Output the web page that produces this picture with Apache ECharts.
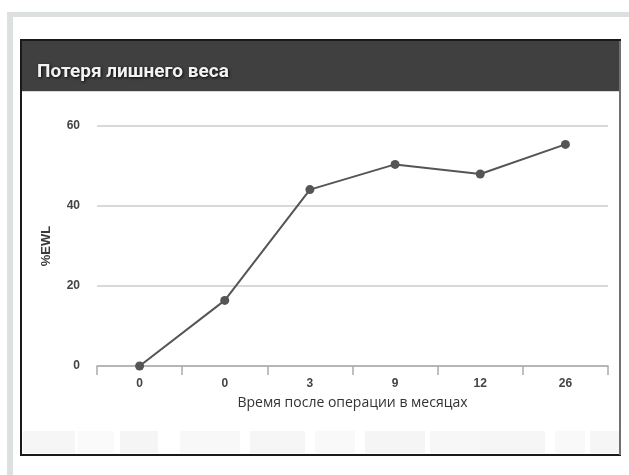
<!DOCTYPE html>
<html>
<head>
<meta charset="utf-8">
<script src="https://cdn.jsdelivr.net/npm/echarts@6/dist/echarts.min.js"></script>
<style>
  html, body { margin: 0; padding: 0; background: #ffffff; }
  #chart { width: 629px; height: 475px; }
</style>
</head>
<body>
<div id="chart"></div>
<script>
// Excess weight loss by time after surgery
const titleText = 'Потеря лишнего веса';
const months = ['0', '0', '3', '9', '12', '26'];
const ewlValues = [0, 16.4, 44.1, 50.4, 48.0, 55.4];
const yTicks = [0, 20, 40, 60];
const xAxisTitle = 'Время после операции в месяцах';
const yAxisTitle = '%EWL';

const chart = echarts.init(document.getElementById('chart'), null, { renderer: 'canvas' });

// faint footer strip along the bottom of the card
const footerBlocks = [
  [23, 52, '#f6f6f6'], [78, 36, '#fafafa'], [120, 38, '#f5f5f5'], [180, 60, '#f8f8f8'],
  [250, 55, '#f6f6f6'], [315, 40, '#f9f9f9'], [365, 60, '#f5f5f5'], [430, 50, '#f7f7f7'],
  [480, 65, '#f6f6f6'], [555, 30, '#f9f9f9'], [590, 29, '#f6f6f6']
];

const labelFont = 'Liberation Sans, Arial, sans-serif';

chart.setOption({
  animation: false,
  backgroundColor: '#ffffff',
  graphic: [
    // outer light frame
    { type: 'rect', shape: { x: 7, y: 12, width: 622, height: 5 }, style: { fill: '#dde0e0' }, z: 0 },
    { type: 'rect', shape: { x: 7, y: 12, width: 6, height: 463 }, style: { fill: '#dde0e0' }, z: 0 },
    // card border
    { type: 'rect', shape: { x: 21, y: 40, width: 599, height: 415 },
      style: { fill: '#ffffff', stroke: '#1a1a1a', lineWidth: 2 }, z: 0 },
    { type: 'rect', shape: { x: 619, y: 41, width: 2, height: 414 }, style: { fill: '#707070' }, z: 1 },
    // header bar
    { type: 'rect', shape: { x: 22, y: 41, width: 597, height: 50 }, style: { fill: '#404040' }, z: 1 },
    { type: 'rect', shape: { x: 22, y: 91, width: 597, height: 1 }, style: { fill: '#d8d8d8' }, z: 1 }
  ].concat(footerBlocks.map(b => ({
    type: 'rect', shape: { x: b[0], y: 431, width: b[1], height: 22 }, style: { fill: b[2] }, z: 1
  }))),
  title: {
    text: titleText,
    left: 32,
    top: 58,
    textStyle: {
      color: '#f2f2f2',
      fontFamily: 'Roboto, Open Sans, sans-serif',
      fontWeight: 'bold',
      fontSize: 19,
      textShadowColor: 'rgba(0,0,0,0.85)',
      textShadowBlur: 3,
      textShadowOffsetX: 1,
      textShadowOffsetY: 1
    }
  },
  grid: { left: 97, right: 21, top: 126, bottom: 109, containLabel: false },
  xAxis: {
    type: 'category',
    data: months,
    boundaryGap: true,
    name: xAxisTitle,
    nameLocation: 'middle',
    nameGap: 30,
    nameTextStyle: { color: '#333333', fontSize: 14, fontFamily: 'Open Sans, sans-serif' },
    axisLine: { show: true, lineStyle: { color: '#aaaaaa', width: 1.5 } },
    axisTick: { show: true, alignWithLabel: false, length: 9, lineStyle: { color: '#aaaaaa', width: 1.5 } },
    axisLabel: { color: '#444444', fontSize: 12, margin: 12, fontWeight: 'bold', fontFamily: labelFont },
    splitLine: { show: false }
  },
  yAxis: {
    type: 'value',
    min: yTicks[0],
    max: yTicks[yTicks.length - 1],
    interval: yTicks[1] - yTicks[0],
    name: yAxisTitle,
    nameLocation: 'middle',
    nameGap: 44,
    nameRotate: 90,
    nameTextStyle: { color: '#3a3a3a', fontSize: 13, fontWeight: 'bold', fontFamily: labelFont },
    axisLine: { show: false },
    axisTick: { show: false },
    axisLabel: { color: '#444444', fontSize: 12, margin: 17, fontWeight: 'bold', fontFamily: labelFont },
    splitLine: { show: true, lineStyle: { color: '#cccccc', width: 1.5 } }
  },
  series: [{
    type: 'line',
    data: ewlValues,
    symbol: 'circle',
    symbolSize: 9,
    lineStyle: { color: '#555555', width: 2 },
    itemStyle: { color: '#555555' },
    z: 5
  }]
});
</script>
</body>
</html>
